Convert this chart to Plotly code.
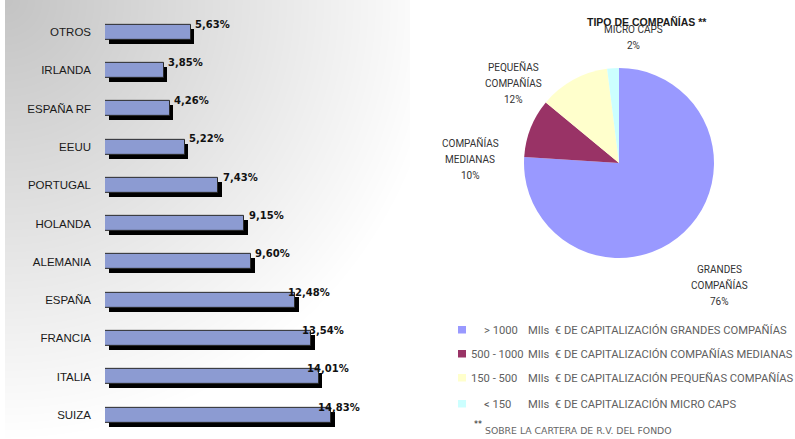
import base64
import struct
import zlib

import numpy as np
import plotly.graph_objects as go

# ---------------- data ----------------
countries = ["OTROS", "IRLANDA", "ESPAÑA RF", "EEUU", "PORTUGAL", "HOLANDA",
             "ALEMANIA", "ESPAÑA", "FRANCIA", "ITALIA", "SUIZA"]
weights = [5.63, 3.85, 4.26, 5.22, 7.43, 9.15, 9.60, 12.48, 13.54, 14.01, 14.83]

pie_names = ["GRANDES<br>COMPAÑÍAS", "COMPAÑÍAS<br>MEDIANAS",
             "PEQUEÑAS<br>COMPAÑÍAS", "MICRO CAPS"]
pie_values = [76, 10, 12, 2]
pie_title = "TIPO DE COMPAÑÍAS **"

legend_ranges = ["> 1000", "500 - 1000", "150 - 500", "< 150"]
legend_desc = ["MIls  € DE CAPITALIZACIÓN GRANDES COMPAÑÍAS",
               "MIls  € DE CAPITALIZACIÓN COMPAÑÍAS MEDIANAS",
               "MIls  € DE CAPITALIZACIÓN PEQUEÑAS COMPAÑÍAS",
               "MIls  € DE CAPITALIZACIÓN MICRO CAPS"]
footnote = "SOBRE LA CARTERA DE R.V. DEL FONDO"

# ---------------- styles / layout ----------------
W, H = 795, 439
pie_colors = ["#9999ff", "#993366", "#ffffcc", "#ccffff"]
bar_color = "#8c9bd2"


def px(x):
    return x / W


def py(y):
    return 1 - y / H


# background gradient for left panel (generated PNG)
GW, GH = 410, 439
yy, xx = np.mgrid[0:GH, 0:GW]
d = np.sqrt((xx - 5.0) ** 2 + (yy * 1.0) ** 2)
L = np.clip(196 + 0.135 * d, 0, 255)
L[:, :5] = 255
img = L.astype(np.uint8)
raw = b"".join(b"\x00" + img[r].tobytes() for r in range(GH))


def _chunk(t, data):
    return struct.pack(">I", len(data)) + t + data + struct.pack(">I", zlib.crc32(t + data) & 0xFFFFFFFF)


png = (b"\x89PNG\r\n\x1a\n"
       + _chunk(b"IHDR", struct.pack(">IIBBBBB", GW, GH, 8, 0, 0, 0, 0))
       + _chunk(b"IDAT", zlib.compress(raw, 9))
       + _chunk(b"IEND", b""))
bg_src = "data:image/png;base64," + base64.b64encode(png).decode()

fig = go.Figure()

bw = 0.39
sh_dy = 0.104
sh_dx = 0.23

# shadow
fig.add_bar(y=countries, x=weights, base=sh_dx, orientation="h", width=bw,
            offset=-bw / 2 + sh_dy, marker=dict(color="black", line=dict(width=0)),
            hoverinfo="skip", showlegend=False)
# face
fig.add_bar(y=countries, x=weights, orientation="h", width=bw, offset=-bw / 2,
            marker=dict(color=bar_color, line=dict(color="#2a2a2a", width=1)),
            showlegend=False, hovertemplate="%{y}: %{x:.2f}%<extra></extra>")

annotations = []
for c, v in zip(countries, weights):
    shift = 22 if v < 9.2 else 22 - (v - 9.2) * 2.5
    annotations.append(dict(
        x=v, y=c, xref="x", yref="y", xanchor="center", yanchor="middle",
        xshift=shift, yshift=8, showarrow=False,
        text=f"{v:.2f}%".replace(".", ","),
        font=dict(family="DejaVu Sans", size=10, color="#111111", weight="bold")))

# pie
cx, cy, r = 619, 163, 95
fig.add_pie(labels=[n.replace("<br>", " ") for n in pie_names], values=pie_values,
            marker=dict(colors=pie_colors, line=dict(width=0)),
            sort=False, direction="clockwise", rotation=0, textinfo="none",
            domain=dict(x=[px(cx - r), px(cx + r)], y=[py(cy + r), py(cy - r)]),
            showlegend=False, hoverinfo="label+percent")

# pie labels
label_pos = [(719, 269), (470, 143), (513, 67), (633, 29)]
line_gap = 16.3
tot = sum(pie_values)
for name, v, (lx, ly) in zip(pie_names, pie_values, label_pos):
    lines = name.split("<br>") + [f"{round(v / tot * 100)}%"]
    for i, t in enumerate(lines):
        annotations.append(dict(
            x=px(lx), y=py(ly + i * line_gap), xref="paper", yref="paper",
            xanchor="center", yanchor="middle", showarrow=False, text=t,
            font=dict(family="Roboto", size=10, color="#333333")))

annotations.append(dict(
    x=px(647), y=py(22), xref="paper", yref="paper", xanchor="center",
    yanchor="middle", showarrow=False, text=pie_title,
    font=dict(family="Liberation Sans", size=10.5, color="#1a1a1a", weight="bold")))

# custom legend
shapes = []
row_y = [330, 354, 378, 404]
range_x = [482, 469, 469, 482]
for col, rng, desc, ry, rx in zip(pie_colors, legend_ranges, legend_desc, row_y, range_x):
    shapes.append(dict(type="rect", xref="paper", yref="paper",
                       x0=px(458), x1=px(466), y0=py(ry - 4), y1=py(ry + 3.5),
                       fillcolor=col, line=dict(width=0)))
    annotations.append(dict(
        x=px(rx), y=py(ry), xref="paper", yref="paper", xanchor="left",
        yanchor="middle", showarrow=False, text=rng,
        font=dict(family="Roboto", size=11.2, color="#606060")))
    annotations.append(dict(
        x=px(526), y=py(ry), xref="paper", yref="paper", xanchor="left",
        yanchor="middle", showarrow=False, text=desc.replace("  ", "\u00a0 "),
        font=dict(family="Roboto", size=11.2, color="#606060")))

annotations.append(dict(
    x=px(472), y=py(424), xref="paper", yref="paper", xanchor="left",
    yanchor="middle", showarrow=False, text="**",
    font=dict(family="DejaVu Sans", size=8, color="#222222")))
annotations.append(dict(
    x=px(483), y=py(430), xref="paper", yref="paper", xanchor="left",
    yanchor="middle", showarrow=False, text=footnote,
    font=dict(family="DejaVu Sans", size=9.3, color="#666666")))

px_per_unit = 15.24
fig.update_layout(
    width=W, height=H, margin=dict(l=0, r=0, t=0, b=0),
    paper_bgcolor="white", plot_bgcolor="rgba(0,0,0,0)",
    barmode="overlay", bargap=0,
    images=[dict(source=bg_src, xref="paper", yref="paper", x=0, y=1,
                 sizex=GW / W, sizey=GH / H, sizing="stretch",
                 xanchor="left", yanchor="top", layer="below")],
    xaxis=dict(domain=[px(105), px(405)], range=[0, 300 / px_per_unit],
               visible=False, fixedrange=True),
    yaxis=dict(domain=[py(32 + 10.5 * 38.3), py(32 - 0.5 * 38.3)],
               range=[10.5, -0.5], showgrid=False, zeroline=False,
               showline=False, ticks="", ticklabelstandoff=13,
               tickfont=dict(family="Liberation Sans", size=11.5, color="#1a1a1a"),
               fixedrange=True),
    annotations=annotations, shapes=shapes,
)

fig.write_html("out.html", config=dict(displayModeBar=False),
               post_script="document.body.style.margin='0px';"
                           "document.body.style.overflow='hidden';")
